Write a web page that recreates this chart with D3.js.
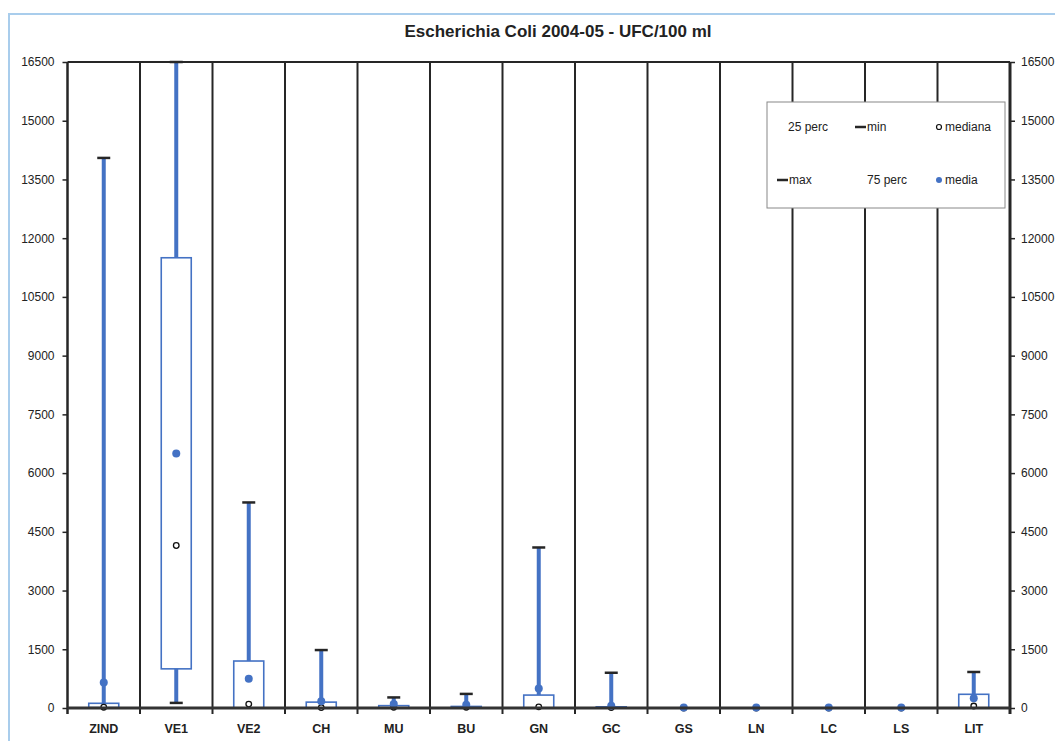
<!DOCTYPE html>
<html>
<head>
<meta charset="utf-8">
<script src="https://cdn.jsdelivr.net/npm/d3@7"></script>
<style>
  html, body { margin: 0; padding: 0; background: #fff; }
  svg { display: block; font-family: Arial, "Liberation Sans", sans-serif; }
</style>
</head>
<body>
<svg id="chart" width="1055" height="741"></svg>
<script>
const categories = ["ZIND","VE1","VE2","CH","MU","BU","GN","GC","GS","LN","LC","LS","LIT"];
const minVals    = [0, 130, 0, 0, 0, 0, 0, 0, 0, 0, 0, 0, 0];
const p25Vals    = [10, 1000, 0, 0, 0, 0, 0, 0, 0, 0, 0, 0, 0];
const medianVals = [20, 4150, 100, 10, 20, 20, 30, 10, 0, 0, 0, 0, 50];
const p75Vals    = [120, 11500, 1200, 150, 60, 40, 330, 30, 0, 0, 0, 0, 350];
const maxVals    = [14050, 16500, 5250, 1480, 270, 360, 4100, 900, 0, 0, 0, 0, 920];
const meanVals   = [650, 6500, 750, 170, 100, 80, 500, 60, 10, 10, 10, 10, 250];
const yTicks     = [0, 1500, 3000, 4500, 6000, 7500, 9000, 10500, 12000, 13500, 15000, 16500];
const titleText  = "Escherichia Coli 2004-05 - UFC/100 ml";

const data = categories.map((c, i) => ({
  cat: c, min: minVals[i], p25: p25Vals[i], median: medianVals[i],
  p75: p75Vals[i], max: maxVals[i], mean: meanVals[i]
}));

const svg = d3.select("#chart");
const mLeft = 67.5, mRight = 1010, mTop = 62, mBottom = 708;
const blue = "#4472c4", dark = "#262626";

const x = d3.scaleBand().domain(categories).range([mLeft, mRight]).paddingInner(0).paddingOuter(0);
const y = d3.scaleLinear().domain([0, 16500]).range([mBottom, mTop]);

// outer light-blue frame
svg.append("rect").attr("x", 9).attr("y", 14).attr("width", 1200).attr("height", 900)
  .attr("fill", "none").attr("stroke", "#a9cdec").attr("stroke-width", 2);

// title
svg.append("text").attr("x", 558).attr("y", 37).attr("text-anchor", "middle")
  .attr("font-size", 17).attr("font-weight", "bold").attr("fill", "#222").text(titleText);

// left axis
const yl = svg.append("g").attr("transform", `translate(${mLeft},0)`)
  .call(d3.axisLeft(y).tickValues(yTicks).tickSize(5).tickPadding(8).tickFormat(d3.format("d")));
yl.select(".domain").remove();
yl.selectAll("line").attr("stroke", dark).attr("stroke-width", 1.5);
yl.selectAll("text").attr("font-size", 12).attr("fill", "#222");

// right axis
const yr = svg.append("g").attr("transform", `translate(${mRight},0)`)
  .call(d3.axisRight(y).tickValues(yTicks).tickSize(5).tickPadding(6).tickFormat(d3.format("d")));
yr.select(".domain").remove();
yr.selectAll("line").attr("stroke", dark).attr("stroke-width", 1.5);
yr.selectAll("text").attr("font-size", 12).attr("fill", "#222");

// category dividers
const edges = categories.slice(1).map(c => x(c));
svg.append("g").selectAll("line").data(edges).join("line")
  .attr("x1", d => d).attr("x2", d => d).attr("y1", mTop).attr("y2", mBottom + 6)
  .attr("stroke", dark).attr("stroke-width", 2);

// frame lines
svg.append("line").attr("x1", mLeft).attr("x2", mRight).attr("y1", mTop).attr("y2", mTop)
  .attr("stroke", dark).attr("stroke-width", 2);
svg.append("line").attr("x1", mLeft).attr("x2", mLeft).attr("y1", mTop).attr("y2", mBottom + 6)
  .attr("stroke", dark).attr("stroke-width", 2.5);
svg.append("line").attr("x1", mRight).attr("x2", mRight).attr("y1", mTop).attr("y2", mBottom + 6)
  .attr("stroke", dark).attr("stroke-width", 3);

// x labels
const xa = svg.append("g").attr("transform", `translate(0,${mBottom})`)
  .call(d3.axisBottom(x).tickSize(0).tickPadding(16));
xa.select(".domain").remove();
xa.selectAll("text").attr("font-size", 12.5).attr("font-weight", "bold").attr("fill", "#222");

const bw = 30, capW = 13;
const g = svg.append("g");
const cx = d => x(d.cat) + x.bandwidth() / 2;

// boxes
g.selectAll("rect.box").data(data.filter(d => d.p75 > d.p25)).join("rect").attr("class", "box")
  .attr("x", d => cx(d) - bw / 2).attr("width", bw)
  .attr("y", d => y(d.p75)).attr("height", d => y(d.p25) - y(d.p75))
  .attr("fill", "#fff").attr("stroke", blue).attr("stroke-width", 1.6);

// baseline over boxes
svg.append("line").attr("x1", mLeft).attr("x2", mRight).attr("y1", mBottom).attr("y2", mBottom)
  .attr("stroke", "#333").attr("stroke-width", 3);

// upper whiskers
g.selectAll("line.wu").data(data.filter(d => d.max > d.p75)).join("line").attr("class", "wu")
  .attr("x1", cx).attr("x2", cx).attr("y1", d => y(d.p75)).attr("y2", d => y(d.max))
  .attr("stroke", blue).attr("stroke-width", 4);
// lower whiskers
g.selectAll("line.wl").data(data.filter(d => d.min < d.p25 && d.p25 - d.min > 50)).join("line").attr("class", "wl")
  .attr("x1", cx).attr("x2", cx).attr("y1", d => y(d.p25)).attr("y2", d => y(d.min))
  .attr("stroke", blue).attr("stroke-width", 4);
// caps
g.selectAll("line.cmax").data(data.filter(d => d.max > d.p75)).join("line").attr("class", "cmax")
  .attr("x1", d => cx(d) - capW / 2).attr("x2", d => cx(d) + capW / 2)
  .attr("y1", d => y(d.max)).attr("y2", d => y(d.max))
  .attr("stroke", dark).attr("stroke-width", 2.5);
g.selectAll("line.cmin").data(data.filter(d => d.min < d.p25 && d.p25 - d.min > 50)).join("line").attr("class", "cmin")
  .attr("x1", d => cx(d) - capW / 2).attr("x2", d => cx(d) + capW / 2)
  .attr("y1", d => y(d.min)).attr("y2", d => y(d.min))
  .attr("stroke", dark).attr("stroke-width", 2.5);

// medians
g.selectAll("circle.med").data(data).join("circle").attr("class", "med")
  .attr("cx", cx).attr("cy", d => y(d.median)).attr("r", 2.8)
  .attr("fill", "#fff").attr("stroke", "#111").attr("stroke-width", 1.3);
// means
g.selectAll("circle.mean").data(data).join("circle").attr("class", "mean")
  .attr("cx", cx).attr("cy", d => y(d.mean)).attr("r", 4)
  .attr("fill", blue);

// legend
const lg = svg.append("g");
lg.append("rect").attr("x", 767).attr("y", 102).attr("width", 238).attr("height", 106)
  .attr("fill", "#fff").attr("stroke", "#888").attr("stroke-width", 1);
const lt = (tx, ty, s) => lg.append("text").attr("x", tx).attr("y", ty).attr("font-size", 12)
  .attr("fill", "#222").text(s);
lt(788, 131, "25 perc");
lg.append("line").attr("x1", 855).attr("x2", 866).attr("y1", 127).attr("y2", 127).attr("stroke", dark).attr("stroke-width", 2.5);
lt(867, 131, "min");
lg.append("circle").attr("cx", 939).attr("cy", 127).attr("r", 2.5).attr("fill", "#fff").attr("stroke", "#111").attr("stroke-width", 1.2);
lt(945, 131, "mediana");
lg.append("line").attr("x1", 777).attr("x2", 788).attr("y1", 180).attr("y2", 180).attr("stroke", dark).attr("stroke-width", 2.5);
lt(789, 184, "max");
lt(867, 184, "75 perc");
lg.append("circle").attr("cx", 939).attr("cy", 180).attr("r", 3).attr("fill", blue);
lt(945, 184, "media");
</script>
</body>
</html>
